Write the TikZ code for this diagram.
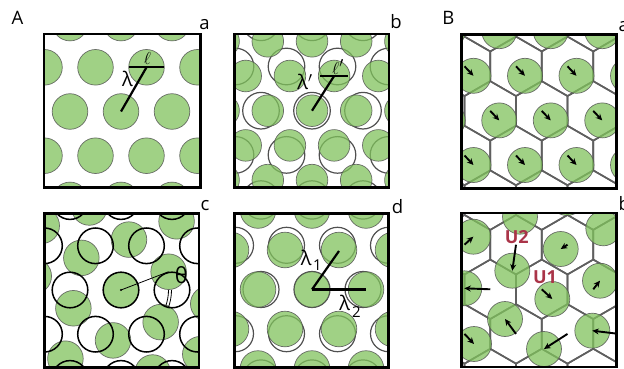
\documentclass[tikz,border=0pt]{standalone}
\usepackage{fontspec}
\setmainfont{Open Sans}
\usetikzlibrary{arrows.meta}
\definecolor{cellgreen}{RGB}{128,194,92}
\definecolor{ringgrey}{RGB}{80,80,80}
\definecolor{hexgrey}{RGB}{95,95,95}
\definecolor{labelred}{RGB}{170,52,72}
\tikzset{
  panelframe/.style={line width=2.6pt, draw=black},
  disc/.style={fill=cellgreen, fill opacity=0.75, draw=ringgrey, draw opacity=0.8, line width=0.7pt},
  greyring/.style={draw=ringgrey, line width=1.2pt},
  blackring/.style={draw=black, line width=1.5pt},
  hexline/.style={draw=hexgrey, line width=1.6pt},
  shiftarrow/.style={-{Stealth[length=6.5pt,width=6pt]}, line width=1.9pt},
  measure/.style={line width=2.2pt},
  thinmeasure/.style={line width=0.8pt},
  panellabel/.style={font=\fontsize{18.5}{22}\selectfont, inner sep=0pt, anchor=base},
  greeklabel/.style={font=\fontsize{20}{24}\selectfont, inner sep=0pt, anchor=base},
  elllabel/.style={font=\fontsize{19}{22}\selectfont, inner sep=0pt, anchor=base},
  sublabel/.style={font=\fontsize{15}{18}\selectfont, inner sep=0pt, anchor=base},
  ulabel/.style={font=\bfseries\fontsize{18}{22}\selectfont, text=labelred, inner sep=0pt, anchor=base},
}
\begin{document}
\begin{tikzpicture}[x=1pt,y=-1pt]
\useasboundingbox (0,0) rectangle (624,369);

% ---------- A.a : regular hexagonal packing ----------
\begin{scope}
  \clip (44,34) rectangle (200.5,187.5);
  \foreach \j in {-3,...,3}{
    \foreach \i in {-4,...,4}{
      \pgfmathsetmacro\px{121+\i*51+\j*25.5}
      \pgfmathsetmacro\py{111.5-\j*44.2}
      \path[disc] (\px,\py) circle[radius=17.8pt];
    }}
\end{scope}
\coordinate (acen) at (121,111.5);
\coordinate (anb) at (146.5,67.3);
\coordinate (aell1) at (129,67.3);
\coordinate (aell2) at (164,67.3);
\draw[measure] (acen) -- (anb);
\draw[measure] (aell1) -- (aell2);
\node[greeklabel] (lama) at (127.5,86.7) {λ};
\node[elllabel] (ella) at (147.5,65) {$\ell$};
\draw[panelframe] (44,34) rectangle (200.5,187.5);

% ---------- A.b : compressed packing over the original ----------
\begin{scope}
  \clip (234.3,34) rectangle (389,187.5);
  \foreach \j in {-3,...,3}{
    \foreach \i in {-4,...,4}{
      \pgfmathsetmacro\px{312+\i*51+\j*25.5}
      \pgfmathsetmacro\py{110.7-\j*44.2}
      \draw[greyring] (\px,\py) circle[radius=18.3pt];
    }}
  \foreach \j in {-4,...,4}{
    \foreach \i in {-5,...,5}{
      \pgfmathsetmacro\px{312+\i*44.2+\j*22.1}
      \pgfmathsetmacro\py{110.7-\j*34.7}
      \path[disc] (\px,\py) circle[radius=15.8pt];
    }}
\end{scope}
\coordinate (bcen) at (312,110.7);
\coordinate (bnb) at (334.1,76);
\coordinate (bell1) at (320,76);
\coordinate (bell2) at (348,76);
\draw[measure] (bcen) -- (bnb);
\draw[measure] (bell1) -- (bell2);
\node[greeklabel] (lamb) at (305,89.7) {λ$'$};
\node[elllabel] (ellb) at (338,74.2) {$\ell'$};
\draw[panelframe] (234.3,34) rectangle (389,187.5);

% ---------- A.c : rotated packing ----------
\begin{scope}
  \clip (44.5,213.5) rectangle (199,367.5);
  \foreach \j in {-4,...,4}{
    \foreach \i in {-5,...,5}{
      \pgfmathsetmacro\u{\i*51+\j*25.5}
      \pgfmathsetmacro\v{-\j*44.2}
      \pgfmathsetmacro\px{121+\u*cos(21)+\v*sin(21)}
      \pgfmathsetmacro\py{290-\u*sin(21)+\v*cos(21)}
      \path[disc] (\px,\py) circle[radius=17.8pt];
    }}
  \foreach \j in {-3,...,3}{
    \foreach \i in {-4,...,4}{
      \pgfmathsetmacro\px{121+\i*51+\j*25.5}
      \pgfmathsetmacro\py{290-\j*44.2}
      \draw[blackring] (\px,\py) circle[radius=17.8pt];
    }}
\end{scope}
\coordinate (ccen) at (121,290);
\coordinate (cnb) at (168.6,271.7);
\draw[thinmeasure] (ccen) -- (cnb);
\fill (ccen) circle[radius=1.1pt];
\draw[thinmeasure] (ccen) ++(47.5,0) arc[start angle=0, end angle=-21, radius=47.5pt];
\draw[thinmeasure] (ccen) ++(50.5,0) arc[start angle=0, end angle=-21, radius=50.5pt];
\node[font=\fontsize{22}{26}\selectfont, inner sep=0pt, anchor=base] (thc) at (181.5,283.3) {θ};
\draw[panelframe] (44.5,213.5) rectangle (199,367.5);

% ---------- A.d : sheared packing ----------
\begin{scope}
  \clip (234.3,213.3) rectangle (388.5,367.3);
  \foreach \j in {-3,...,3}{
    \foreach \i in {-4,...,4}{
      \pgfmathsetmacro\px{312+\i*51+\j*25.5}
      \pgfmathsetmacro\py{289.5-\j*44.2}
      \draw[greyring] (\px,\py) circle[radius=18pt];
    }}
  \foreach \j in {-4,...,4}{
    \foreach \i in {-4,...,4}{
      \pgfmathsetmacro\px{312+\i*54+\j*27}
      \pgfmathsetmacro\py{289.5-\j*39.5}
      \path[disc] (\px,\py) circle[radius=17.8pt];
    }}
\end{scope}
\coordinate (dcen) at (312,289.5);
\coordinate (dnb1) at (339,251);
\coordinate (dnb2) at (366,289.5);
\draw[measure] (dcen) -- (dnb1);
\draw[measure] (dcen) -- (dnb2);
\node[greeklabel] (lamd1) at (306.3,265.3) {λ};
\node[sublabel] (subd1) at (317.5,270.3) {1};
\node[greeklabel] (lamd2) at (344.7,310.3) {λ};
\node[sublabel] (subd2) at (356.3,317) {2};
\draw[panelframe] (234.3,213.3) rectangle (388.5,367.3);

% ---------- B.a : ordered lattice with Voronoi cells ----------
\begin{scope}
  \clip (461.3,34.3) rectangle (616.3,188.3);
  \foreach \j in {-2,...,3}{
    \foreach \i in {-3,...,4}{
      \pgfmathsetmacro\hx{464.5+\i*51.5+\j*25.75}
      \pgfmathsetmacro\hy{66.3+\j*44.6}
      \draw[hexline] (\hx,\hy) ++(0,-29.73) -- ++(25.75,14.87) -- ++(0,29.73)
        -- ++(-25.75,14.87) -- ++(-25.75,-14.87) -- ++(0,-29.73) -- cycle;
    }}
  \foreach \j in {-2,...,3}{
    \foreach \i in {-3,...,4}{
      \pgfmathsetmacro\hx{464.5+\i*51.5+\j*25.75}
      \pgfmathsetmacro\hy{66.3+\j*44.6}
      \path[disc] (\hx+9,\hy+9.5) circle[radius=17.5pt];
      \draw[shiftarrow] (\hx,\hy) -- (\hx+9,\hy+9.5);
    }}
\end{scope}
\draw[panelframe] (461.3,34.3) rectangle (616.3,188.3);

% ---------- B.b : disordered lattice with Voronoi cells ----------
\begin{scope}
  \clip (461.3,212.8) rectangle (616.3,367);
  \foreach \j in {2,...,8}{
    \foreach \i in {-6,...,2}{
      \pgfmathsetmacro\hx{464.5+\i*51.5+\j*25.75}
      \pgfmathsetmacro\hy{66.3+\j*44.6}
      \draw[hexline] (\hx,\hy) ++(0,-29.73) -- ++(25.75,14.87) -- ++(0,29.73)
        -- ++(-25.75,14.87) -- ++(-25.75,-14.87) -- ++(0,-29.73) -- cycle;
    }}
  % displaced cells: centre of each disc
  \foreach \cx/\cy in {473.3/236.7, 520/216.7, 567/198, 560.7/249, 603.3/228.3,
                       464.3/288.3, 512.3/270.7, 552.3/299, 600/280.7,
                       505/319, 474/344, 544/349, 592.3/330.7}{
    \path[disc] (\cx,\cy) circle[radius=17.5pt];
  }
  % shifts from the lattice sites to the disc centres
  \foreach \hx/\hy/\cx/\cy in {464.5/244.7/473.3/236.7, 567.5/244.7/560.7/249,
                               490.25/289.3/464.3/288.3, 516/244.7/512.3/270.7,
                               541.75/289.3/552.3/299, 593.25/289.3/600/280.7,
                               516/333.9/505/319, 464.5/333.9/474/344,
                               567.5/333.9/544/349, 619/333.9/592.3/330.7}{
    \draw[shiftarrow] (\hx,\hy) -- (\cx,\cy);
  }
\end{scope}
\node[ulabel] (utwo) at (516.7,243.3) {U2};
\node[ulabel] (uone) at (545,283.3) {U1};
\draw[panelframe] (461.3,212.8) rectangle (616.3,367);

% ---------- panel letters ----------
\node[panellabel] (labA) at (17.5,25) {A};
\node[panellabel] (laba) at (204.5,30) {a};
\node[panellabel] (labb) at (396,28.3) {b};
\node[panellabel] (labc) at (205,210) {c};
\node[panellabel] (labd) at (397.5,213.3) {d};
\node[panellabel] (labB) at (448.3,25) {B};
\node[panellabel, anchor=base west] (labBa) at (618.3,31.7) {a};
\node[panellabel, anchor=base west] (labBb) at (618.3,210) {b};
\end{tikzpicture}
\end{document}
